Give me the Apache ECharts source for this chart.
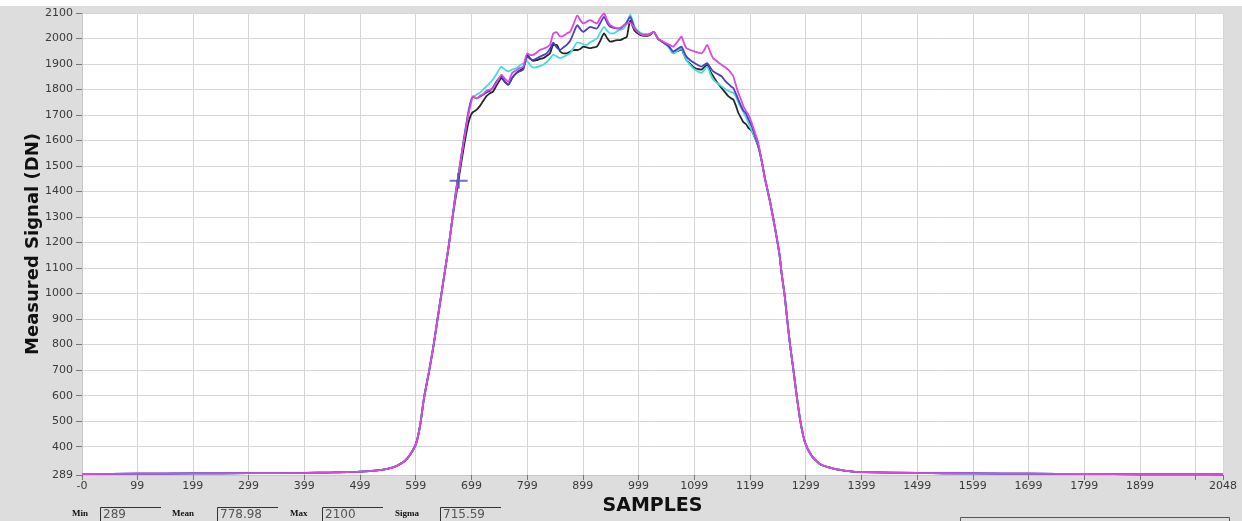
<!DOCTYPE html>
<html>
<head>
<meta charset="utf-8">
<script src="https://cdn.jsdelivr.net/npm/echarts@6/dist/echarts.min.js"></script>
<style>
html,body{margin:0;padding:0;background:#dddddd;}
#chart{width:1242px;height:521px;}
</style>
</head>
<body>
<div id="chart"></div>
<script>
// ---- tick values / labels ----
const xTickValues = [0, 99, 199, 299, 399, 499, 599, 699, 799, 899, 999, 1099, 1199, 1299, 1399, 1499, 1599, 1699, 1799, 1899, 1999, 2048];
const xTickLabels = ['-0', '99', '199', '299', '399', '499', '599', '699', '799', '899', '999', '1099', '1199', '1299', '1399', '1499', '1599', '1699', '1799', '1899', '', '2048'];
const yTickValues = [289, 400, 500, 600, 700, 800, 900, 1000, 1100, 1200, 1300, 1400, 1500, 1600, 1700, 1800, 1900, 2000, 2100];

// ---- common rising edge (sample, DN) ----
const riseCommon = [[0, 293], [100, 294], [200, 295], [300, 296], [400, 297], [450, 299], [500, 302], [530, 307], [550, 314], [565, 325], [580, 345], [590, 372], [600, 415], [607, 485], [614, 592], [623, 696], [631, 797], [638, 898], [645, 997], [652, 1097], [659, 1198], [665, 1298]];

// ---- common falling edge (sample, DN) ----
const fallCommon = [[1226, 1450], [1235, 1360], [1244, 1256], [1252, 1152], [1256, 1075], [1261, 997], [1266, 894], [1271, 797], [1277, 700], [1283, 596], [1290, 492], [1298, 415], [1310, 363], [1325, 331], [1349, 314], [1376, 304], [1400, 300], [1500, 297], [1600, 295], [1700, 294], [1800, 293], [1900, 292], [2000, 292], [2048, 291]];

// ---- top region samples ----
const topX = [671, 678, 685, 693, 698, 702, 708, 714, 720, 726, 732, 738, 745, 753, 758, 765, 772, 780, 786, 792, 799, 805, 810, 816, 822, 828, 834, 840, 846, 852, 858, 864, 870, 876, 882, 889, 895, 900, 906, 912, 918, 924, 930, 937, 943, 948, 954, 960, 966, 972, 978, 984, 992, 1001, 1010, 1018, 1026, 1034, 1043, 1050, 1055, 1061, 1068, 1076, 1080, 1085, 1092, 1100, 1106, 1112, 1117, 1122, 1128, 1133, 1140, 1148, 1154, 1160, 1165, 1169, 1174, 1178, 1183, 1187, 1192, 1196, 1202, 1208, 1214, 1220];

const magentaTop = [1395, 1495, 1595, 1695, 1745, 1774, 1765, 1775, 1782, 1795, 1800, 1806, 1830, 1858, 1845, 1830, 1865, 1876, 1884, 1890, 1942, 1935, 1936, 1945, 1955, 1960, 1966, 1975, 2020, 2025, 2008, 2010, 2020, 2026, 2055, 2091, 2070, 2059, 2066, 2072, 2065, 2059, 2080, 2098, 2070, 2052, 2045, 2040, 2042, 2050, 2058, 2062, 2039, 2020, 2013, 2015, 2026, 2000, 1988, 1980, 1975, 1968, 1985, 2007, 1985, 1962, 1955, 1949, 1945, 1942, 1955, 1975, 1945, 1923, 1910, 1897, 1888, 1878, 1865, 1852, 1815, 1787, 1760, 1735, 1715, 1703, 1670, 1630, 1590, 1520];

const blueTop = [1400, 1500, 1600, 1705, 1755, 1772, 1765, 1772, 1780, 1788, 1795, 1810, 1835, 1852, 1835, 1819, 1845, 1865, 1872, 1878, 1929, 1920, 1916, 1922, 1929, 1935, 1942, 1960, 1984, 1965, 1955, 1965, 1975, 1990, 2020, 2052, 2035, 2026, 2036, 2046, 2042, 2039, 2060, 2085, 2060, 2046, 2042, 2040, 2039, 2050, 2065, 2085, 2039, 2020, 2013, 2015, 2026, 2000, 1985, 1975, 1965, 1949, 1958, 1968, 1950, 1929, 1915, 1903, 1895, 1890, 1897, 1903, 1885, 1871, 1862, 1852, 1835, 1822, 1812, 1806, 1782, 1761, 1735, 1718, 1705, 1685, 1657, 1620, 1580, 1520];

const cyanTop = [1398, 1498, 1600, 1702, 1752, 1770, 1780, 1787, 1800, 1812, 1826, 1840, 1865, 1890, 1880, 1871, 1878, 1884, 1895, 1902, 1910, 1895, 1886, 1888, 1892, 1897, 1908, 1922, 1936, 1930, 1923, 1928, 1935, 1942, 1962, 1985, 1982, 1977, 1975, 1985, 1992, 2000, 2022, 2046, 2030, 2020, 2020, 2028, 2035, 2039, 2060, 2095, 2045, 2025, 2018, 2018, 2026, 2000, 1985, 1972, 1960, 1942, 1950, 1962, 1940, 1916, 1895, 1878, 1870, 1865, 1878, 1890, 1860, 1839, 1825, 1813, 1802, 1795, 1790, 1788, 1770, 1750, 1728, 1712, 1690, 1670, 1640, 1612, 1578, 1520];

const blackTop = [1380, 1475, 1570, 1665, 1700, 1712, 1720, 1735, 1755, 1774, 1785, 1793, 1820, 1845, 1832, 1819, 1845, 1865, 1875, 1884, 1936, 1920, 1912, 1915, 1920, 1923, 1932, 1942, 1975, 1975, 1950, 1942, 1942, 1948, 1955, 1955, 1960, 1968, 1965, 1962, 1965, 1968, 1990, 2020, 2000, 1988, 1990, 1994, 1994, 2000, 2007, 2070, 2030, 2015, 2010, 2012, 2025, 1998, 1985, 1975, 1962, 1942, 1950, 1958, 1940, 1916, 1900, 1884, 1880, 1878, 1888, 1897, 1870, 1852, 1828, 1806, 1790, 1774, 1766, 1761, 1735, 1709, 1688, 1672, 1664, 1650, 1638, 1610, 1575, 1520];

// ---- cursor cross ----
const cursorPoint = [[676, 1442]];

// ---- statistics readout ----
const statLabels = ['Min', 'Mean', 'Max', 'Sigma'];
const statValues = ['289', '778.98', '2100', '715.59'];

function buildSeriesData(top) {
  return riseCommon.concat(topX.map((x, i) => [x, top[i]]), fallCommon);
}

const chart = echarts.init(document.getElementById('chart'), null, {renderer: 'canvas'});

const labelX = [72, 172, 290, 395];
const boxX = [100, 217, 322, 440];
const boxW = 61;
const graphics = [
  {type: 'rect', shape: {x: 0, y: 0, width: 1242, height: 6}, style: {fill: '#ffffff'}, silent: true, z: -1},
  {type: 'rect', shape: {x: 960.5, y: 517.5, width: 269, height: 20}, style: {fill: 'none', stroke: '#555', lineWidth: 1}, silent: true}
];
statLabels.forEach((lab, i) => {
  graphics.push({type: 'text', x: labelX[i], y: 514, style: {text: lab, font: 'bold 9px "Liberation Serif"', fill: '#111', verticalAlign: 'middle'}, silent: true});
  graphics.push({type: 'polyline', shape: {points: [[boxX[i] + 0.5, 522], [boxX[i] + 0.5, 507.5], [boxX[i] + boxW, 507.5]]}, style: {stroke: '#333', lineWidth: 1, fill: 'none'}, silent: true});
  graphics.push({type: 'text', x: boxX[i] + 3, y: 514.5, style: {text: statValues[i], font: '12px "DejaVu Sans"', fill: '#555', verticalAlign: 'middle'}, silent: true});
});

const lineCommon = {type: 'line', showSymbol: false, smooth: 0.2, animation: false, silent: true};

chart.setOption({
  backgroundColor: '#dddddd',
  animation: false,
  grid: {left: 82, right: 19, top: 13, bottom: 42, show: true, backgroundColor: '#ffffff', borderWidth: 0},
  xAxis: {
    type: 'value', min: 0, max: 2048,
    name: 'SAMPLES', nameLocation: 'middle', nameGap: 22, nameMoveOverlap: false,
    nameTextStyle: {fontFamily: 'DejaVu Sans', fontWeight: 'bold', fontSize: 19, color: '#111'},
    axisLine: {show: true, lineStyle: {color: '#c8c8c8'}},
    axisTick: {show: true, length: 5, customValues: xTickValues, lineStyle: {color: '#777'}},
    axisLabel: {
      customValues: xTickValues.filter((v, i) => xTickLabels[i] !== ''),
      formatter: v => xTickLabels[xTickValues.indexOf(v)],
      fontFamily: 'DejaVu Sans', fontSize: 11, color: '#3a3a3a', margin: 6
    },
    splitLine: {show: true, lineStyle: {color: '#d6d6d6', width: 1}}
  },
  yAxis: {
    type: 'value', min: 289, max: 2100,
    name: 'Measured Signal (DN)', nameLocation: 'middle', nameGap: 40, nameMoveOverlap: false,
    nameTextStyle: {fontFamily: 'DejaVu Sans', fontWeight: 'bold', fontSize: 18, color: '#111'},
    axisLine: {show: true, lineStyle: {color: '#c8c8c8'}},
    axisTick: {show: true, length: 6, customValues: yTickValues, lineStyle: {color: '#777'}},
    axisLabel: {
      customValues: yTickValues,
      formatter: v => String(v),
      fontFamily: 'DejaVu Sans', fontSize: 11, color: '#3a3a3a', margin: 9
    },
    splitLine: {show: true, lineStyle: {color: '#d6d6d6', width: 1}}
  },
  graphic: graphics,
  series: [
    Object.assign({}, lineCommon, {name: 'black', data: buildSeriesData(blackTop), lineStyle: {color: '#262626', width: 1.8}, itemStyle: {color: '#262626'}}),
    Object.assign({}, lineCommon, {name: 'cyan', data: buildSeriesData(cyanTop), lineStyle: {color: '#45dcdc', width: 1.8}, itemStyle: {color: '#45dcdc'}}),
    Object.assign({}, lineCommon, {name: 'blue', data: buildSeriesData(blueTop), lineStyle: {color: '#4a3fc8', width: 1.8}, itemStyle: {color: '#4a3fc8'}}),
    Object.assign({}, lineCommon, {name: 'magenta', data: buildSeriesData(magentaTop), lineStyle: {color: '#dd48e0', width: 1.8}, itemStyle: {color: '#dd48e0'}}),
    {
      type: 'scatter', name: 'cursor', data: cursorPoint, silent: true, animation: false,
      symbol: 'path://M0,7h16v2h-16z M7,0h2v16h-2z', symbolSize: [18, 16],
      itemStyle: {color: '#4a50b0'}, z: 5
    }
  ]
});
</script>
</body>
</html>
